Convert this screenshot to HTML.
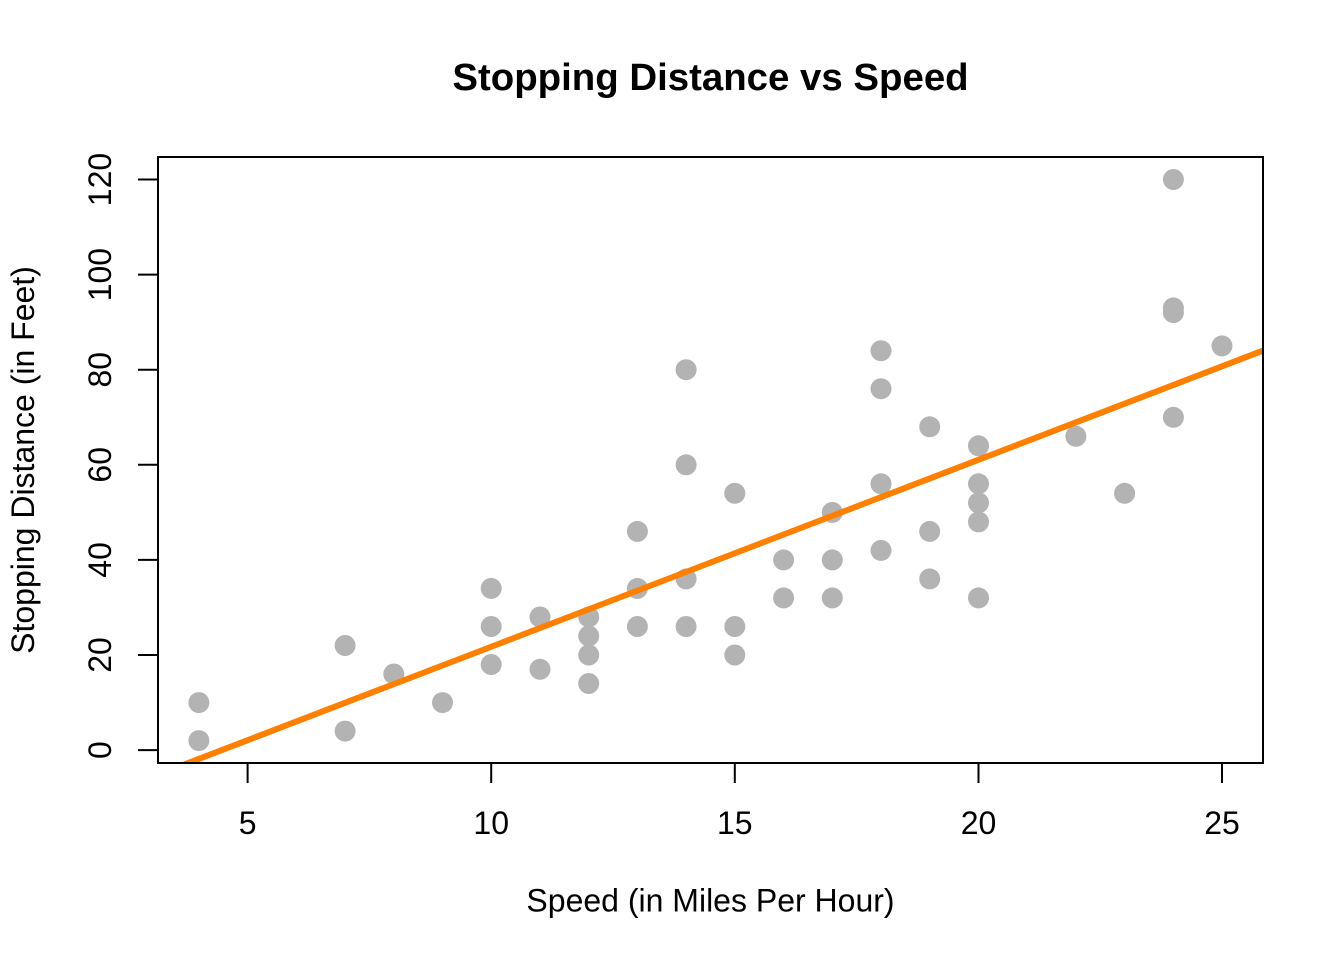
<!DOCTYPE html>
<html>
<head>
<meta charset="utf-8">
<style>
  html, body { margin:0; padding:0; background:#ffffff; }
  svg { display:block; }
  text { font-family: "Liberation Sans", Arial, Helvetica, sans-serif; fill:#000; }
</style>
</head>
<body>
<svg width="1344" height="960" viewBox="0 0 1344 960" xmlns="http://www.w3.org/2000/svg">
  <rect x="0" y="0" width="1344" height="960" fill="#ffffff"/>
  <defs>
    <clipPath id="plotclip">
      <rect x="158" y="157" width="1105" height="606"/>
    </clipPath>
  </defs>
  <text x="710.5" y="90" font-size="38.4" font-weight="bold" text-anchor="middle">Stopping Distance vs Speed</text>
  <g fill="#b3b3b3">
    <circle cx="198.9" cy="740.6" r="10.5"/>
    <circle cx="198.9" cy="702.6" r="10.5"/>
    <circle cx="345.1" cy="731.1" r="10.5"/>
    <circle cx="345.1" cy="645.5" r="10.5"/>
    <circle cx="393.8" cy="674.0" r="10.5"/>
    <circle cx="442.5" cy="702.6" r="10.5"/>
    <circle cx="491.2" cy="664.5" r="10.5"/>
    <circle cx="491.2" cy="626.5" r="10.5"/>
    <circle cx="491.2" cy="588.4" r="10.5"/>
    <circle cx="540.0" cy="669.3" r="10.5"/>
    <circle cx="540.0" cy="617.0" r="10.5"/>
    <circle cx="588.7" cy="683.5" r="10.5"/>
    <circle cx="588.7" cy="655.0" r="10.5"/>
    <circle cx="588.7" cy="636.0" r="10.5"/>
    <circle cx="588.7" cy="617.0" r="10.5"/>
    <circle cx="637.4" cy="626.5" r="10.5"/>
    <circle cx="637.4" cy="588.4" r="10.5"/>
    <circle cx="637.4" cy="531.4" r="10.5"/>
    <circle cx="686.1" cy="626.5" r="10.5"/>
    <circle cx="686.1" cy="578.9" r="10.5"/>
    <circle cx="686.1" cy="464.8" r="10.5"/>
    <circle cx="686.1" cy="369.7" r="10.5"/>
    <circle cx="734.8" cy="655.0" r="10.5"/>
    <circle cx="734.8" cy="626.5" r="10.5"/>
    <circle cx="734.8" cy="493.3" r="10.5"/>
    <circle cx="783.6" cy="597.9" r="10.5"/>
    <circle cx="783.6" cy="559.9" r="10.5"/>
    <circle cx="832.3" cy="597.9" r="10.5"/>
    <circle cx="832.3" cy="559.9" r="10.5"/>
    <circle cx="832.3" cy="512.4" r="10.5"/>
    <circle cx="881.0" cy="550.4" r="10.5"/>
    <circle cx="881.0" cy="483.8" r="10.5"/>
    <circle cx="881.0" cy="388.7" r="10.5"/>
    <circle cx="881.0" cy="350.7" r="10.5"/>
    <circle cx="929.7" cy="578.9" r="10.5"/>
    <circle cx="929.7" cy="531.4" r="10.5"/>
    <circle cx="929.7" cy="426.8" r="10.5"/>
    <circle cx="978.5" cy="597.9" r="10.5"/>
    <circle cx="978.5" cy="521.9" r="10.5"/>
    <circle cx="978.5" cy="502.8" r="10.5"/>
    <circle cx="978.5" cy="483.8" r="10.5"/>
    <circle cx="978.5" cy="445.8" r="10.5"/>
    <circle cx="1075.9" cy="436.3" r="10.5"/>
    <circle cx="1124.6" cy="493.3" r="10.5"/>
    <circle cx="1173.4" cy="417.3" r="10.5"/>
    <circle cx="1173.4" cy="312.6" r="10.5"/>
    <circle cx="1173.4" cy="307.9" r="10.5"/>
    <circle cx="1173.4" cy="179.5" r="10.5"/>
    <circle cx="1222.0" cy="345.9" r="10.5"/>
  </g>
  <g clip-path="url(#plotclip)">
    <line x1="158" y1="774.6" x2="1263" y2="350.6" stroke="#ff7f00" stroke-width="6"/>
  </g>
  <rect x="158" y="157" width="1105" height="606" fill="none" stroke="#000" stroke-width="2"/>
  <g stroke="#000" stroke-width="2">
    <line x1="247.6" y1="763" x2="247.6" y2="783"/>
    <line x1="491.2" y1="763" x2="491.2" y2="783"/>
    <line x1="734.8" y1="763" x2="734.8" y2="783"/>
    <line x1="978.5" y1="763" x2="978.5" y2="783"/>
    <line x1="1222.0" y1="763" x2="1222.0" y2="783"/>
    <line x1="138" y1="750.1" x2="158" y2="750.1"/>
    <line x1="138" y1="655.0" x2="158" y2="655.0"/>
    <line x1="138" y1="559.9" x2="158" y2="559.9"/>
    <line x1="138" y1="464.8" x2="158" y2="464.8"/>
    <line x1="138" y1="369.7" x2="158" y2="369.7"/>
    <line x1="138" y1="274.6" x2="158" y2="274.6"/>
    <line x1="138" y1="179.5" x2="158" y2="179.5"/>
  </g>
  <g font-size="32" text-anchor="middle">
    <text x="247.6" y="834">5</text>
    <text x="491.2" y="834">10</text>
    <text x="734.8" y="834">15</text>
    <text x="978.5" y="834">20</text>
    <text x="1222.0" y="834">25</text>
    <text transform="translate(111,750.1) rotate(-90)">0</text>
    <text transform="translate(111,655.0) rotate(-90)">20</text>
    <text transform="translate(111,559.9) rotate(-90)">40</text>
    <text transform="translate(111,464.8) rotate(-90)">60</text>
    <text transform="translate(111,369.7) rotate(-90)">80</text>
    <text transform="translate(111,274.6) rotate(-90)">100</text>
    <text transform="translate(111,179.5) rotate(-90)">120</text>
  </g>
  <text x="710.5" y="911.5" font-size="32" text-anchor="middle">Speed (in Miles Per Hour)</text>
  <text transform="translate(34,460) rotate(-90)" font-size="32" text-anchor="middle">Stopping Distance (in Feet)</text>
</svg>
</body>
</html>
